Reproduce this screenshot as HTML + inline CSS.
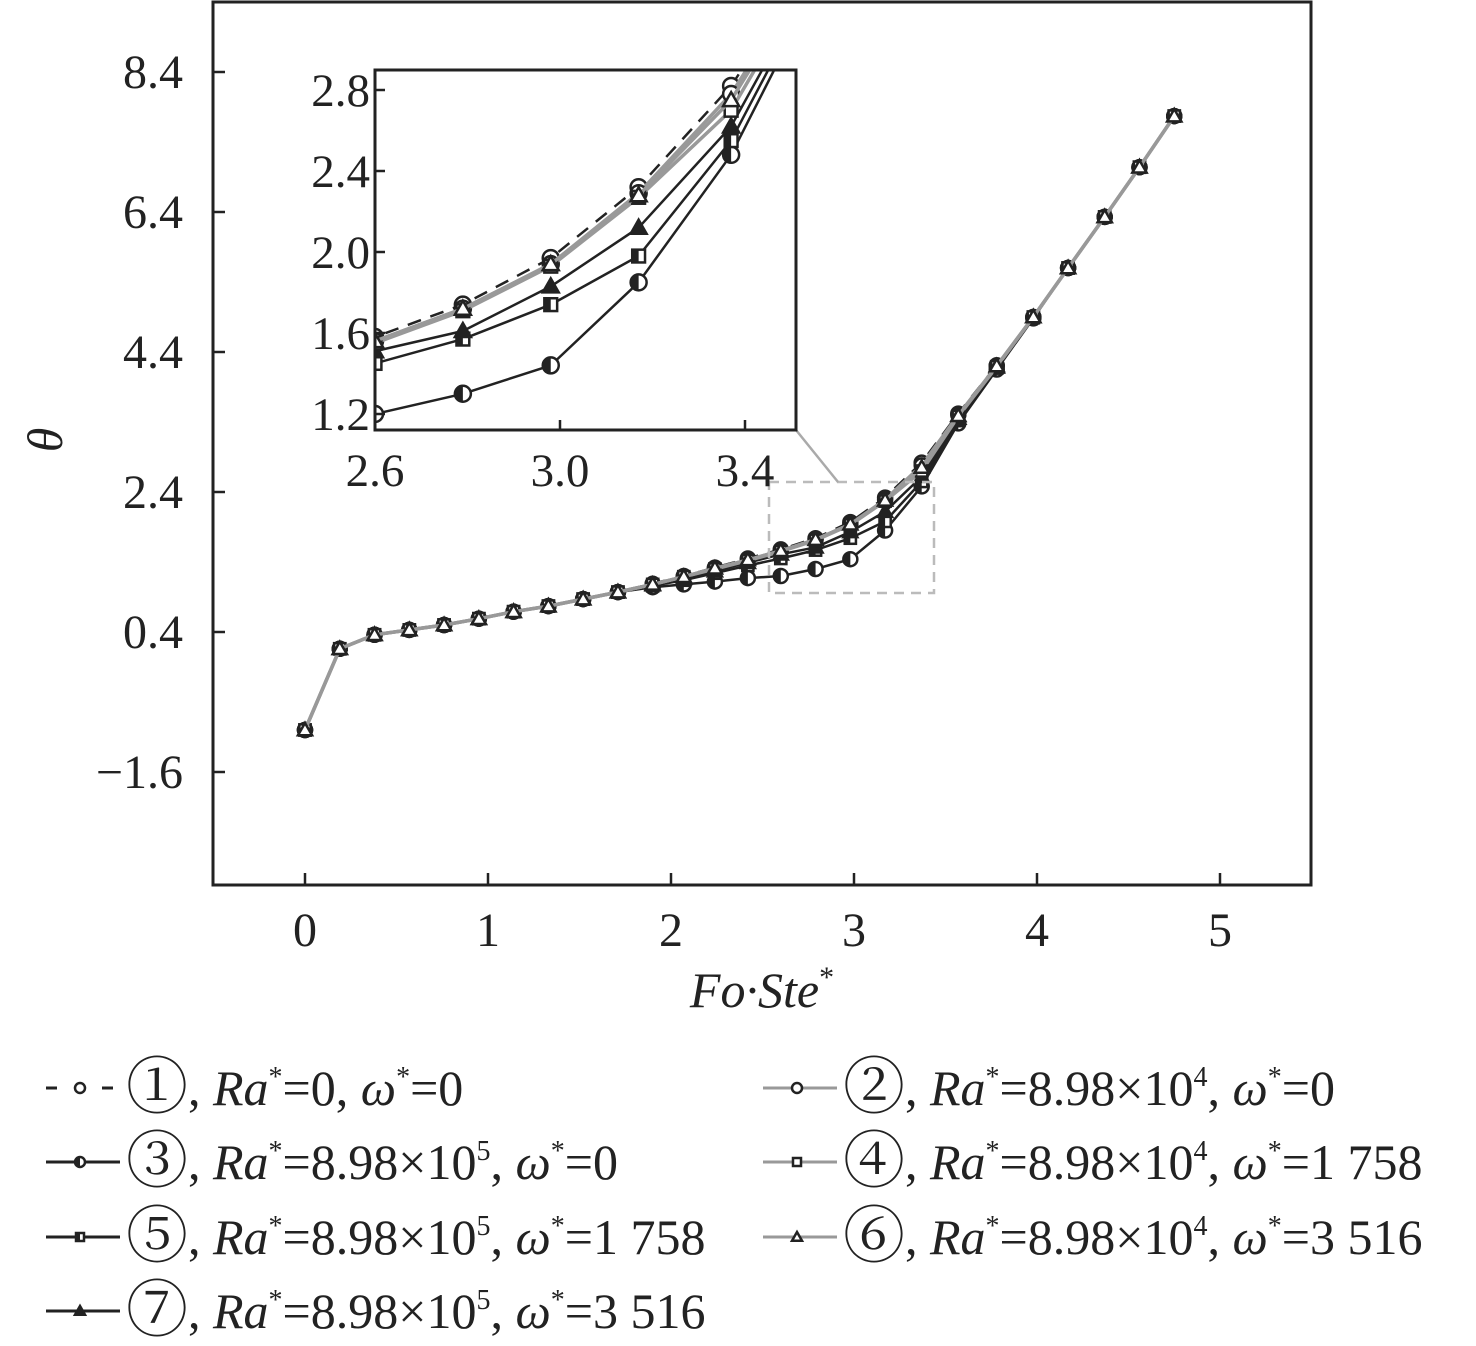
<!DOCTYPE html>
<html><head><meta charset="utf-8">
<style>
html,body{margin:0;padding:0;background:#fff;}
svg{display:block;font-family:"Liberation Serif","DejaVu Serif",serif;}
</style></head>
<body>
<svg id="chart" width="1476" height="1346" viewBox="0 0 1476 1346" xmlns="http://www.w3.org/2000/svg">
<defs>
<clipPath id="mainClip"><rect x="213" y="2" width="1098" height="883"/></clipPath>
<clipPath id="insetClip"><rect x="375" y="70" width="421" height="360"/></clipPath>
</defs>
<g id="main"></g>
<g id="inset"></g>
<g id="legend"></g>
</svg>
<script>
const xs = [0,0.19,0.38,0.57,0.76,0.95,1.14,1.33,1.52,1.71,1.90,2.07,2.24,2.42,2.60,2.79,2.98,3.17,3.37,3.57,3.78,3.98,4.17,4.37,4.56,4.75];
const common = [-1.0,0.16,0.36,0.43,0.5,0.59,0.69,0.77,0.87,0.97];
const s1 = common.concat([1.09,1.20,1.32,1.45,1.58,1.74,1.97,2.32,2.82,3.52,4.21,4.9,5.6,6.33,7.04,7.77]);
const s2 = common.concat([1.08,1.19,1.31,1.43,1.56,1.72,1.94,2.29,2.78,3.50,4.20,4.9,5.6,6.33,7.04,7.77]);
const s3 = common.concat([1.04,1.08,1.12,1.17,1.20,1.30,1.44,1.85,2.48,3.38,4.15,4.88,5.6,6.33,7.04,7.77]);
const s4 = common.concat([1.08,1.19,1.30,1.42,1.55,1.71,1.93,2.27,2.70,3.48,4.19,4.9,5.6,6.33,7.04,7.77]);
const s5 = common.concat([1.06,1.14,1.24,1.35,1.45,1.57,1.74,1.98,2.55,3.42,4.17,4.89,5.6,6.33,7.04,7.77]);
const s6 = common.concat([1.08,1.19,1.31,1.43,1.56,1.72,1.94,2.28,2.75,3.49,4.20,4.9,5.6,6.33,7.04,7.77]);
const s7 = common.concat([1.07,1.16,1.27,1.39,1.51,1.61,1.83,2.12,2.62,3.45,4.18,4.9,5.6,6.33,7.04,7.77]);
const xTicks = [0,1,2,3,4,5];
const yTicks = [8.4,6.4,4.4,2.4,0.4,-1.6];
const insetXTicks = [2.6,3.0,3.4];
const insetYTicks = [2.8,2.4,2.0,1.6,1.2];

const NS="http://www.w3.org/2000/svg";
function mk(tag, attrs, parent){const e=document.createElementNS(NS,tag);for(const k in attrs)e.setAttribute(k,attrs[k]);if(parent)parent.appendChild(e);return e;}
const mx=v=>305+(v-0)*183;
const my=v=>632-(v-0.4)*70;
const ix=v=>375+(v-2.6)*462.5;
const iy=v=>414-(v-1.2)*202.5;

const series=[
 {d:s3,col:"#222",dash:"",mk:"half",name:"series-3"},
 {d:s5,col:"#222",dash:"",mk:"hsquare",name:"series-5"},
 {d:s7,col:"#222",dash:"",mk:"ftriangle",name:"series-7"},
 {d:s1,col:"#222",dash:"14 10",mk:"circle",name:"series-1"},
 {d:s2,col:"#999",dash:"",mk:"circle",name:"series-2"},
 {d:s4,col:"#999",dash:"",mk:"square",name:"series-4"},
 {d:s6,col:"#999",dash:"",mk:"triangle",name:"series-6"}
];

function marker(g,type,x,y,r){
 let e;
 if(type==="circle"){e=mk("circle",{cx:x,cy:y,r:r,fill:"#fff",stroke:"#222","stroke-width":2.5},g);}
 else if(type==="half"){e=mk("g",{},g);mk("circle",{cx:x,cy:y,r:r,fill:"#fff",stroke:"#222","stroke-width":2.5},e);mk("path",{d:`M${x},${y-r} A${r},${r} 0 0 0 ${x},${y+r} Z`,fill:"#222"},e);}
 else if(type==="square"){e=mk("rect",{x:x-r*0.8,y:y-r*0.8,width:r*1.6,height:r*1.6,fill:"#fff",stroke:"#222","stroke-width":2.5},g);}
 else if(type==="hsquare"){e=mk("g",{},g);mk("rect",{x:x-r*0.8,y:y-r*0.8,width:r*1.6,height:r*1.6,fill:"#fff",stroke:"#222","stroke-width":2.5},e);mk("rect",{x:x-r*0.8,y:y-r*0.8,width:r*0.8,height:r*1.6,fill:"#222"},e);}
 else if(type==="triangle"){e=mk("path",{d:`M${x},${y-r} L${x+r},${y+r*0.75} L${x-r},${y+r*0.75} Z`,fill:"#fff",stroke:"#222","stroke-width":2.5},g);}
 else {e=mk("path",{d:`M${x},${y-r} L${x+r},${y+r*0.75} L${x-r},${y+r*0.75} Z`,fill:"#222",stroke:"#222","stroke-width":2.5},g);}
 
 
 return e;
}

function drawSeries(parent,clip,fx,fy,r,xmin,xmax){
 const g=mk("g",{"clip-path":`url(#${clip})`},parent);
 series.forEach(s=>{
  const sg=mk("g",{},g);
  
  
  let pts=xs.map((x,i)=>fx(x).toFixed(1)+","+fy(s.d[i]).toFixed(1)).join(" ");
  const pl=mk("polyline",{points:pts,fill:"none",stroke:s.col,"stroke-width":s.col==="#999"?3.5:2.5,"stroke-dasharray":s.dash,"stroke-linejoin":"round"},sg);
  
  
  xs.forEach((x,i)=>{if(x>=xmin&&x<=xmax)marker(sg,s.mk,fx(x),fy(s.d[i]),r);});
 });
}

// main plot
const main=document.getElementById("main");
const frame=mk("rect",{x:213,y:2,width:1098,height:883,fill:"none",stroke:"#222","stroke-width":3},main);


xTicks.forEach(t=>{
 mk("line",{x1:mx(t),y1:885,x2:mx(t),y2:873,stroke:"#222","stroke-width":2.5},main);
 const tx=mk("text",{x:mx(t),y:946,"font-size":48,"text-anchor":"middle",fill:"#222"},main);
 tx.textContent=t;
 
 
});
yTicks.forEach(t=>{
 mk("line",{x1:213,y1:my(t),x2:225,y2:my(t),stroke:"#222","stroke-width":2.5},main);
 const tx=mk("text",{x:183,y:my(t)+16,"font-size":48,"text-anchor":"end",fill:"#222"},main);
 tx.textContent=(t<0?"\u2212"+Math.abs(t).toFixed(1):t.toFixed(1));
 
 
});
const xt=mk("text",{x:762,y:1007,"font-size":50,"text-anchor":"middle","font-style":"italic",fill:"#222"},main);
xt.innerHTML='Fo·Ste<tspan dy="-20" font-size="30" font-style="normal">*</tspan>';


const yt=mk("text",{x:0,y:0,"font-size":50,"text-anchor":"middle","font-style":"italic",fill:"#222",transform:"translate(62,440) rotate(-90)"},main);
yt.textContent="θ";


drawSeries(main,"mainClip",mx,my,7,-1,10);
const zb=mk("rect",{x:769,y:482,width:165,height:111,fill:"none",stroke:"#bbb","stroke-width":2.5,"stroke-dasharray":"10 7"},main);


const cl=mk("line",{x1:796,y1:430,x2:838,y2:482,stroke:"#aaa","stroke-width":2.5},main);



// inset
const inset=document.getElementById("inset");
const ibg=mk("rect",{x:375,y:70,width:421,height:360,fill:"#fff",stroke:"none"},inset);


drawSeries(inset,"insetClip",ix,iy,8,2.5,3.45);
const iframe=mk("rect",{x:375,y:70,width:421,height:360,fill:"none",stroke:"#222","stroke-width":3},inset);


insetXTicks.forEach(t=>{
 mk("line",{x1:ix(t),y1:430,x2:ix(t),y2:420,stroke:"#222","stroke-width":2.5},inset);
 const tx=mk("text",{x:ix(t),y:486,"font-size":47,"text-anchor":"middle",fill:"#222"},inset);
 tx.textContent=t.toFixed(1);
 
 
});
insetYTicks.forEach(t=>{
 mk("line",{x1:375,y1:iy(t),x2:385,y2:iy(t),stroke:"#222","stroke-width":2.5},inset);
 const tx=mk("text",{x:370,y:iy(t)+16,"font-size":47,"text-anchor":"end",fill:"#222"},inset);
 tx.textContent=t.toFixed(1);
 
 
});

// legend
const legend=document.getElementById("legend");
const legItems=[
 {x:40,y:1088,col:"#222",dash:true,mk:"circle",num:"①",exp:null,w:"0"},
 {x:757,y:1088,col:"#999",dash:false,mk:"circle",num:"②",exp:"4",w:"0"},
 {x:40,y:1162,col:"#222",dash:false,mk:"half",num:"③",exp:"5",w:"0"},
 {x:757,y:1162,col:"#999",dash:false,mk:"square",num:"④",exp:"4",w:"1 758"},
 {x:40,y:1237,col:"#222",dash:false,mk:"hsquare",num:"⑤",exp:"5",w:"1 758"},
 {x:757,y:1237,col:"#999",dash:false,mk:"triangle",num:"⑥",exp:"4",w:"3 516"},
 {x:40,y:1311,col:"#222",dash:false,mk:"ftriangle",num:"⑦",exp:"5",w:"3 516"}
];
legItems.forEach((it,i)=>{
 const g=mk("g",{},legend);
 
 
 if(it.dash){
  mk("line",{x1:it.x+6,y1:it.y,x2:it.x+17,y2:it.y,stroke:"#222","stroke-width":3},g);
  mk("line",{x1:it.x+62,y1:it.y,x2:it.x+73,y2:it.y,stroke:"#222","stroke-width":3},g);
 } else {
  mk("line",{x1:it.x+6,y1:it.y,x2:it.x+80,y2:it.y,stroke:it.col,"stroke-width":3},g);
 }
 marker(g,it.mk,it.x+40,it.y,5);
 const c=mk("text",{x:it.x+86,y:it.y+20,"font-size":62,fill:"#222","font-family":"Noto Serif CJK SC, DejaVu Serif, serif"},g);
 c.textContent=it.num;
 const t=mk("text",{x:it.x+148,y:it.y+17,"font-size":50,fill:"#222"},g);
 if(it.exp===null){
  t.innerHTML=', <tspan font-style="italic">Ra</tspan><tspan dy="-19" font-size="28">*</tspan><tspan dy="19">=0, </tspan><tspan font-style="italic">ω</tspan><tspan dy="-19" font-size="28">*</tspan><tspan dy="19">=0</tspan>';
 } else {
  t.innerHTML=', <tspan font-style="italic">Ra</tspan><tspan dy="-19" font-size="28">*</tspan><tspan dy="19">=8.98×10</tspan><tspan dy="-19" font-size="28">'+it.exp+'</tspan><tspan dy="19">, </tspan><tspan font-style="italic">ω</tspan><tspan dy="-19" font-size="28">*</tspan><tspan dy="19">='+it.w+'</tspan>';
 }
 
 
});
</script>
</body></html>
